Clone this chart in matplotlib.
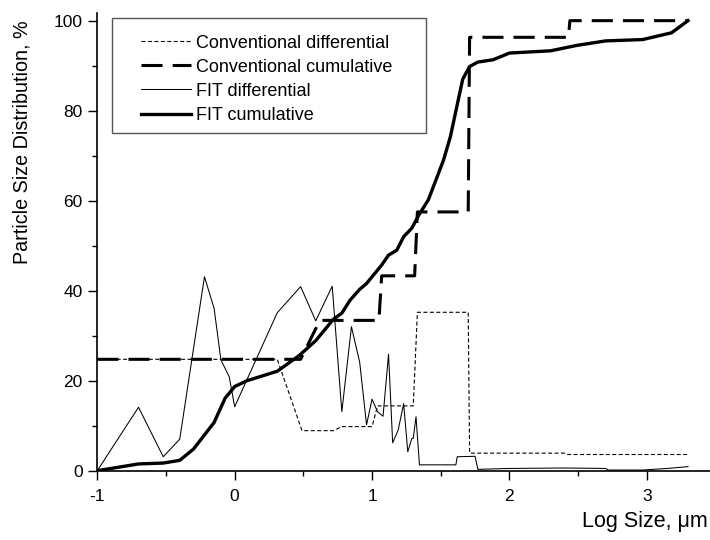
import matplotlib
matplotlib.use('Agg')
import matplotlib.pyplot as plt
from matplotlib.patches import Rectangle
from matplotlib.ticker import MultipleLocator

plt.rcParams['font.family'] = ['Liberation Sans', 'DejaVu Sans']
plt.rcParams['axes.unicode_minus'] = False

# conventional analysis (step curves)
conv_diff_x = [-1, 0.31, 0.49, 0.72, 0.78, 1.0, 1.04, 1.30, 1.33, 1.70, 1.71, 2.40, 2.42, 3.30]
conv_diff_y = [24.75, 24.75, 8.9, 8.9, 9.8, 9.8, 14.4, 14.4, 35.2, 35.2, 3.9, 3.9, 3.6, 3.6]

conv_cum_x = [-1, 0.48, 0.62, 1.05, 1.07, 1.31, 1.33, 1.70, 1.71, 2.43, 2.44, 3.30]
conv_cum_y = [24.75, 24.75, 33.4, 33.4, 43.3, 43.3, 57.5, 57.5, 96.3, 96.3, 100, 100]

# FIT analysis
fit_diff_x = [-1, -0.70, -0.52, -0.40, -0.22, -0.15, -0.10, -0.04, 0.0, 0.31, 0.48, 0.59,
              0.71, 0.78, 0.85, 0.91, 0.96, 1.0, 1.04, 1.08, 1.12, 1.15, 1.19, 1.23, 1.26,
              1.29, 1.30, 1.32, 1.345, 1.61, 1.62, 1.75, 1.77, 2.0, 2.4, 2.7, 2.72, 2.97,
              3.15, 3.3]
fit_diff_y = [0, 14.1, 3.1, 7.0, 43.1, 36.1, 24.6, 20.9, 14.2, 35.1, 40.9, 33.3,
              41.0, 13.1, 32.0, 24.1, 10.2, 15.9, 13.1, 12.1, 25.9, 6.2, 9.0, 14.9, 4.2,
              7.2, 7.2, 12.0, 1.3, 1.3, 3.1, 3.2, 0.3, 0.5, 0.6, 0.5, 0.15, 0.15,
              0.5, 0.9]

fit_cum_x = [-1, -0.70, -0.52, -0.40, -0.30, -0.15, -0.07, 0.0, 0.09, 0.31, 0.47, 0.59,
             0.72, 0.78, 0.84, 0.91, 0.96, 1.07, 1.12, 1.18, 1.23, 1.29, 1.34, 1.41, 1.52,
             1.57, 1.66, 1.71, 1.77, 1.88, 2.0, 2.3, 2.49, 2.7, 2.97, 3.18, 3.3]
fit_cum_y = [0, 1.5, 1.7, 2.3, 4.8, 10.7, 16.1, 18.7, 20.0, 22.1, 25.6, 28.9,
             33.7, 35.0, 37.9, 40.3, 41.6, 45.7, 47.9, 49.0, 52.0, 53.9, 56.8, 60.2, 69.0,
             74.2, 87.0, 89.8, 90.8, 91.3, 92.8, 93.3, 94.5, 95.5, 95.8, 97.3, 100]

fig = plt.figure(figsize=(7.1, 5.4), dpi=100)
ax = fig.add_axes([97.3 / 710, 69.3 / 540, 612.7 / 710, 457.7 / 540])

ax.plot(conv_diff_x, conv_diff_y, color='black', lw=0.8, dashes=(3.6, 2.2),
        label='Conventional differential')
ax.plot(conv_cum_x, conv_cum_y, color='black', lw=2.2, dashes=(6.9, 3.3),
        dash_capstyle='butt', label='Conventional cumulative')
ax.plot(fit_diff_x, fit_diff_y, color='black', lw=0.75, label='FIT differential')
ax.plot(fit_cum_x, fit_cum_y, color='black', lw=2.4, label='FIT cumulative')

ax.set_xlim(-1, 3.46)
ax.set_ylim(0, 101.7)
ax.spines['top'].set_visible(False)
ax.spines['right'].set_visible(False)
for s in ('left', 'bottom'):
    ax.spines[s].set_linewidth(1.2)

ax.xaxis.set_major_locator(MultipleLocator(1))
ax.xaxis.set_minor_locator(MultipleLocator(0.5))
ax.yaxis.set_major_locator(MultipleLocator(20))
ax.yaxis.set_minor_locator(MultipleLocator(10))
ax.tick_params(which='major', length=6.5, width=1, labelsize=12.5)
ax.tick_params(which='minor', length=3.6, width=1)
ax.tick_params(axis='x', which='major', pad=7)
ax.tick_params(axis='y', which='major', pad=4)

# legend box
ax.add_patch(Rectangle((14.4 / 612.7, 337.7 / 457.7), 314.3 / 612.7, 114.7 / 457.7,
                       transform=ax.transAxes, fill=False, edgecolor='#555555', lw=1))
ax.legend(loc='upper left', bbox_to_anchor=(44 / 612.7, 436 / 457.7), frameon=False,
          fontsize=13, handlelength=2.76, handletextpad=0.25, labelspacing=0.39,
          borderpad=0, borderaxespad=0)

fig.text(22 / 710, 1 - 142 / 540, 'Particle Size Distribution, %', rotation=90,
         ha='center', va='center', fontsize=14.2)
fig.text(708 / 710, 1 - 522 / 540, 'Log Size, \u03bcm', ha='right', va='center',
         fontsize=15.5)

fig.savefig('out.png', dpi=100)
